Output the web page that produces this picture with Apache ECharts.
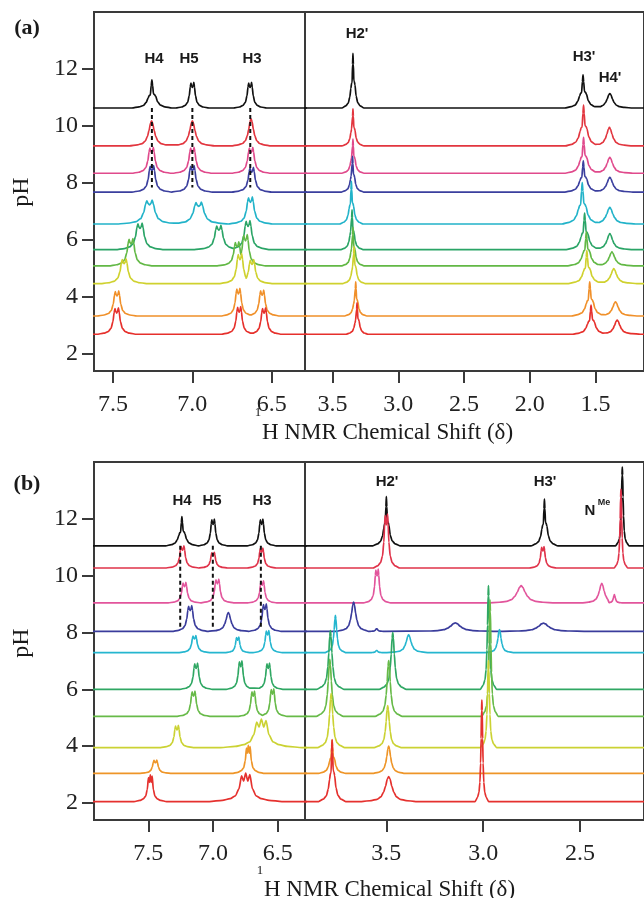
<!DOCTYPE html>
<html>
<head>
<meta charset="utf-8" />
<title></title>
<script src="https://cdn.jsdelivr.net/npm/echarts@6/dist/echarts.min.js"></script>
<style>
    html, body { margin: 0; padding: 0; background: #fff; }
    #chart { width: 644px; height: 898px; }
</style>
</head>
<body>
<div id="chart"></div>
<script>
// baseline (pH) of every trace, top trace first
var phA = [10.63, 9.30, 8.34, 7.68, 6.56, 5.66, 5.09, 4.47, 3.33, 2.69];
var phB = [11.05, 10.27, 9.04, 8.04, 7.29, 6.00, 5.05, 3.95, 3.04, 2.05];
var colorsA = ['#111111', '#e2363f', '#e04a8c', '#3b3f9e', '#22b3c9', '#2aa466', '#62b845', '#cfd12e', '#f0902a', '#e6302c'];
var colorsB = ['#111111', '#e0334a', '#e2559c', '#3a3c9c', '#25b6cf', '#2fa763', '#67ba48', '#cbd233', '#ee9528', '#e5312e'];

// peaks: [shift (ppm), height (pH units), width (ppm), shape]
var peaksA = [
    [[7.255, 0.99, 0.018, 'M'], [7.0, 0.90, 0.015, 'D'], [6.636, 0.90, 0.015, 'D'], [3.345, 1.92, 0.012, 'M'], [1.594, 1.16, 0.02, 'M'], [1.39, 0.51, 0.025, 'S']],
    [[7.257, 0.88, 0.02, 'S'], [7.0, 0.88, 0.02, 'S'], [6.63, 0.95, 0.018, 'S'], [3.345, 1.30, 0.012, 'M'], [1.59, 1.43, 0.02, 'M'], [1.393, 0.65, 0.025, 'S']],
    [[7.257, 0.91, 0.018, 'D'], [7.0, 0.91, 0.018, 'D'], [6.63, 0.91, 0.018, 'D'], [3.345, 1.20, 0.012, 'M'], [1.59, 1.26, 0.02, 'M'], [1.39, 0.56, 0.025, 'S']],
    [[7.255, 0.93, 0.018, 'D'], [7.0, 0.93, 0.018, 'D'], [6.626, 0.87, 0.018, 'D'], [3.348, 1.25, 0.012, 'M'], [1.592, 1.10, 0.02, 'M'], [1.39, 0.52, 0.025, 'S']],
    [[7.27, 0.84, 0.028, 'D'], [6.96, 0.77, 0.028, 'D'], [6.634, 0.95, 0.02, 'D'], [3.357, 1.50, 0.013, 'M'], [1.60, 1.45, 0.022, 'M'], [1.39, 0.58, 0.028, 'S']],
    [[7.33, 0.93, 0.022, 'D'], [6.833, 0.85, 0.022, 'D'], [6.649, 1.02, 0.02, 'D'], [3.352, 1.40, 0.012, 'M'], [1.582, 1.28, 0.02, 'M'], [1.39, 0.56, 0.025, 'S']],
    [[7.387, 0.96, 0.02, 'D'], [6.718, 0.84, 0.018, 'D'], [6.665, 1.10, 0.018, 'D'], [3.345, 1.35, 0.012, 'M'], [1.569, 1.19, 0.02, 'M'], [1.374, 0.49, 0.025, 'S']],
    [[7.43, 0.87, 0.02, 'D'], [6.70, 1.05, 0.018, 'D'], [6.624, 0.84, 0.018, 'D'], [3.337, 1.30, 0.012, 'M'], [1.565, 1.16, 0.02, 'M'], [1.36, 0.52, 0.025, 'S']],
    [[7.475, 0.88, 0.018, 'D'], [6.71, 0.97, 0.016, 'D'], [6.56, 0.91, 0.016, 'D'], [3.324, 1.20, 0.012, 'M'], [1.543, 1.20, 0.02, 'M'], [1.347, 0.50, 0.025, 'S']],
    [[7.477, 0.93, 0.018, 'D'], [6.705, 0.97, 0.016, 'D'], [6.548, 0.93, 0.016, 'D'], [3.314, 1.10, 0.012, 'M'], [1.533, 1.02, 0.02, 'M'], [1.334, 0.50, 0.025, 'S']]
];
var peaksB = [
    [[7.241, 1.03, 0.018, 'M'], [7.0, 0.94, 0.016, 'D'], [6.625, 0.94, 0.016, 'D'], [3.5, 1.73, 0.01, 'M'], [2.684, 1.64, 0.01, 'M'], [2.282, 2.77, 0.005, 'S']],
    [[7.236, 0.78, 0.018, 'D'], [7.0, 0.55, 0.016, 'D'], [6.625, 0.70, 0.016, 'D'], [3.5, 1.90, 0.01, 'D'], [2.692, 0.75, 0.01, 'D'], [2.289, 2.77, 0.005, 'S']],
    [[7.221, 0.72, 0.018, 'D'], [6.967, 0.84, 0.018, 'D'], [6.62, 0.78, 0.016, 'D'], [3.548, 1.19, 0.01, 'D'], [2.804, 0.61, 0.025, 'S'], [2.388, 0.69, 0.015, 'S'], [2.323, 0.29, 0.006, 'S']],
    [[7.177, 0.91, 0.02, 'D'], [6.882, 0.66, 0.022, 'S'], [6.6, 0.97, 0.018, 'D'], [3.669, 1.03, 0.013, 'S'], [3.55, 0.10, 0.006, 'S'], [3.144, 0.30, 0.03, 'S'], [2.689, 0.29, 0.03, 'S']],
    [[7.144, 0.60, 0.018, 'D'], [6.81, 0.55, 0.014, 'D'], [6.579, 0.78, 0.016, 'D'], [3.763, 1.31, 0.008, 'S'], [3.55, 0.08, 0.006, 'S'], [3.385, 0.63, 0.015, 'S'], [2.916, 0.81, 0.01, 'S']],
    [[7.131, 0.92, 0.018, 'D'], [6.787, 1.00, 0.016, 'D'], [6.574, 0.92, 0.016, 'D'], [3.789, 2.07, 0.01, 'S'], [3.467, 2.00, 0.01, 'S'], [2.973, 3.65, 0.006, 'S']],
    [[7.151, 0.89, 0.018, 'D'], [6.69, 0.89, 0.016, 'D'], [6.541, 0.97, 0.016, 'D'], [3.792, 2.00, 0.01, 'S'], [3.488, 1.96, 0.01, 'S'], [2.965, 4.10, 0.006, 'S']],
    [[7.279, 0.78, 0.018, 'D'], [6.627, 1.00, 0.045, 'T'], [3.785, 1.90, 0.01, 'S'], [3.493, 1.48, 0.01, 'S'], [2.973, 3.06, 0.006, 'S']],
    [[7.446, 0.47, 0.018, 'D'], [6.728, 0.99, 0.018, 'T'], [3.78, 1.17, 0.01, 'M'], [3.488, 0.96, 0.012, 'S']],
    [[7.485, 0.94, 0.018, 'T'], [6.748, 1.00, 0.04, 'T'], [3.78, 2.18, 0.01, 'M'], [3.488, 0.88, 0.02, 'S'], [3.007, 3.57, 0.005, 'S']]
];

// line shapes traced from the peaks: [offset in widths, fraction of height]
var shapes = {
    S: [[-7, 0], [-4.5, 0.04], [-3, 0.09], [-2, 0.19], [-1.3, 0.38], [-0.8, 0.62], [-0.35, 0.9], [0, 1], [0.35, 0.9], [0.8, 0.62], [1.3, 0.38], [2, 0.19], [3, 0.09], [4.5, 0.04], [7, 0]],
    D: [[-7, 0], [-4.5, 0.04], [-3, 0.1], [-2, 0.22], [-1.3, 0.48], [-0.9, 0.82], [-0.6, 1], [-0.3, 0.85], [0, 0.8], [0.3, 0.85], [0.6, 0.97], [0.9, 0.82], [1.3, 0.48], [2, 0.22], [3, 0.1], [4.5, 0.04], [7, 0]],
    M: [[-7, 0], [-4.5, 0.04], [-3, 0.1], [-2, 0.22], [-1.3, 0.42], [-0.9, 0.48], [-0.55, 0.5], [-0.25, 0.8], [0, 1], [0.25, 0.8], [0.55, 0.46], [0.9, 0.45], [1.3, 0.36], [2, 0.2], [3, 0.09], [4.5, 0.04], [7, 0]],
    T: [[-7, 0], [-4.5, 0.04], [-3, 0.1], [-2, 0.2], [-1.3, 0.45], [-0.8, 0.95], [-0.4, 0.72], [0, 1], [0.4, 0.72], [0.8, 0.9], [1.3, 0.45], [2, 0.2], [3, 0.1], [4.5, 0.04], [7, 0]]
};

var phTicks = [2, 4, 6, 8, 10, 12];
var ticksAL = [6.5, 7.0, 7.5];
var ticksAR = [1.5, 2.0, 2.5, 3.0, 3.5];
var ticksBL = [6.5, 7.0, 7.5];
var ticksBR = [2.5, 3.0, 3.5];

// dashed guides: [shift, from pH, to pH]
var guidesA = [[7.255, 10.63, 7.84], [7.0, 10.63, 7.84], [6.635, 10.63, 7.84]];
var guidesB = [[7.254, 11.05, 8.19], [7.002, 11.05, 8.19], [6.631, 11.05, 8.19]];

var serif = "'Liberation Serif', 'Times New Roman', serif";
var sans = "'Liberation Sans', Arial, sans-serif";

function trace(base, peaks, lo, hi) {
    var sorted = peaks.slice().sort(function (a, b) { return b[0] - a[0]; });
    var pts = [[hi, base]];
    for (var i = 0; i < sorted.length; i++) {
        var p = sorted[i];
        var upper = i > 0 ? (sorted[i - 1][0] + p[0]) / 2 : hi;
        var lower = i < sorted.length - 1 ? (sorted[i + 1][0] + p[0]) / 2 : lo;
        shapes[p[3]].forEach(function (s) {
            var x = p[0] + s[0] * p[2];
            if (x < upper && x > lower) pts.push([x, base + s[1] * p[1]]);
        });
    }
    pts.push([lo, base]);
    pts.sort(function (a, b) { return b[0] - a[0]; });
    return pts;
}

function xAxisOf(grid, min, max, ticks) {
    return {
        gridIndex: grid, type: 'value', min: min, max: max, inverse: true,
        axisLine: { show: true, lineStyle: { color: '#3a3a3a', width: 2 } },
        axisTick: { show: true, length: 12, customValues: ticks, lineStyle: { color: '#3a3a3a', width: 2 } },
        axisLabel: { customValues: ticks, margin: 22, fontFamily: serif, fontSize: 24, color: '#222',
            formatter: function (v) { return v.toFixed(1); } },
        splitLine: { show: false }
    };
}
function yAxisOf(grid, shown) {
    return {
        gridIndex: grid, type: 'value', min: 1.4, max: 14, show: shown,
        axisLine: { show: true, lineStyle: { color: '#3a3a3a', width: 2 } },
        axisTick: { show: true, length: 12, customValues: phTicks, lineStyle: { color: '#3a3a3a', width: 2 } },
        axisLabel: { customValues: phTicks, margin: 16, fontFamily: serif, fontSize: 24, color: '#222' },
        splitLine: { show: false }
    };
}

var series = [];
function addPanel(bases, colors, peaks, guides, gl, gr) {
    for (var i = 0; i < bases.length; i++) {
        var d = trace(bases[i], peaks[i], 0.8, 8.2);
        [gl, gr].forEach(function (g) {
            series.push({
                type: 'line', xAxisIndex: g, yAxisIndex: g, data: d, showSymbol: false,
                silent: true, animation: false, smooth: 0.25, smoothMonotone: 'x',
                lineStyle: { color: colors[i], width: 1.7 }
            });
        });
    }
    guides.forEach(function (g) {
        series.push({
            type: 'line', xAxisIndex: gl, yAxisIndex: gl, showSymbol: false, silent: true, animation: false,
            data: [[g[0], g[1]], [g[0], g[2]]],
            lineStyle: { color: '#111', width: 2, type: [4, 3] }
        });
    });
}
addPanel(phA, colorsA, peaksA, guidesA, 0, 1);
addPanel(phB, colorsB, peaksB, guidesB, 2, 3);

var gridStyle = { show: true, borderWidth: 2, borderColor: '#3a3a3a', backgroundColor: 'transparent' };
function label(text, x, y, size, font, weight) {
    return { type: 'text', x: x, y: y, silent: true,
        style: { text: text, fill: '#1a1a1a', font: (weight || 'normal') + ' ' + size + 'px ' + font,
            textAlign: 'center', textVerticalAlign: 'middle' } };
}

var option = {
    backgroundColor: '#ffffff',
    animation: false,
    grid: [
        Object.assign({ left: 94, top: 12, width: 211, height: 359 }, gridStyle),
        Object.assign({ left: 305, top: 12, width: 341, height: 359 }, gridStyle),
        Object.assign({ left: 94, top: 462, width: 211, height: 358 }, gridStyle),
        Object.assign({ left: 305, top: 462, width: 341, height: 358 }, gridStyle)
    ],
    xAxis: [
        xAxisOf(0, 6.29, 7.62, ticksAL),
        xAxisOf(1, 1.13, 3.71, ticksAR),
        xAxisOf(2, 6.29, 7.92, ticksBL),
        xAxisOf(3, 2.17, 3.92, ticksBR)
    ],
    yAxis: [yAxisOf(0, true), yAxisOf(1, false), yAxisOf(2, true), yAxisOf(3, false)],
    series: series,
    graphic: [
        label('(a)', 27, 28, 22, serif, 'bold'),
        label('(b)', 27, 484, 22, serif, 'bold'),
        Object.assign(label('pH', 22, 192, 24, serif), { rotation: Math.PI / 2 }),
        Object.assign(label('pH', 22, 643, 24, serif), { rotation: Math.PI / 2 }),
        label('1', 258, 413, 13, serif),
        { type: 'text', x: 262, y: 433, silent: true,
          style: { text: 'H NMR Chemical Shift (\u03b4)', fill: '#1a1a1a', font: '23px ' + serif, textAlign: 'left', textVerticalAlign: 'middle' } },
        label('1', 260, 871, 13, serif),
        { type: 'text', x: 264, y: 890, silent: true,
          style: { text: 'H NMR Chemical Shift (\u03b4)', fill: '#1a1a1a', font: '23px ' + serif, textAlign: 'left', textVerticalAlign: 'middle' } },
        label('H4', 154, 59, 15, sans, 'bold'),
        label('H5', 189, 59, 15, sans, 'bold'),
        label('H3', 252, 59, 15, sans, 'bold'),
        label("H2'", 357, 34, 15, sans, 'bold'),
        label("H3'", 584, 57, 15, sans, 'bold'),
        label("H4'", 610, 78, 15, sans, 'bold'),
        label('H4', 182, 501, 15, sans, 'bold'),
        label('H5', 212, 501, 15, sans, 'bold'),
        label('H3', 262, 501, 15, sans, 'bold'),
        label("H2'", 387, 482, 15, sans, 'bold'),
        label("H3'", 545, 482, 15, sans, 'bold'),
        label('N', 590, 511, 15, sans, 'bold'),
        label('Me', 604, 503, 9, sans, 'bold')
    ]
};

var myChart = echarts.init(document.getElementById('chart'));
myChart.setOption(option);
</script>
</body>
</html>
